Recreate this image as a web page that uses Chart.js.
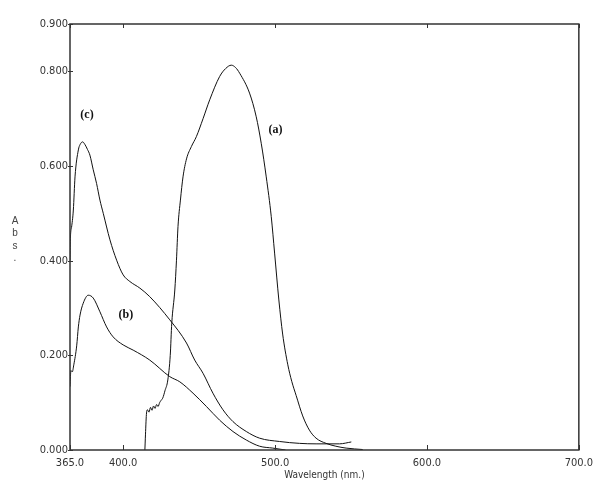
<!DOCTYPE html>
<html><head><meta charset="utf-8">
<script src="https://cdn.jsdelivr.net/npm/chart.js@4/dist/chart.umd.min.js"></script>
<style>html,body{margin:0;padding:0;background:#fff}#wrap{width:600px;height:497px}</style>
</head><body><div id="wrap"><canvas id="c" width="600" height="497"></canvas></div>
<script>
// ---- data (wavelength in nm, absorbance) ----
const wavelengthA = [414.3,414.6,415.3,416.0,417.0,418.0,419.0,420.0,421.0,422.0,423.0,424.0,425.0,426.1,427.5,429.4,431.0,432.0,434.0,435.1,436.1,437.7,439.4,441.7,444.9,448.2,452.6,457.0,463.5,467.5,471.2,474.0,476.7,483.2,487.6,490.9,494.2,497.5,499.7,502.5,505.0,508.4,511.0,513.9,518.2,522.6,527.0,533.6,540.0,546.8,557.7];
const absA        = [0.000,0.025,0.075,0.085,0.080,0.090,0.084,0.093,0.088,0.096,0.092,0.100,0.105,0.110,0.125,0.148,0.200,0.268,0.338,0.401,0.472,0.528,0.577,0.615,0.641,0.662,0.700,0.740,0.789,0.806,0.813,0.808,0.796,0.754,0.704,0.648,0.577,0.493,0.416,0.317,0.245,0.180,0.145,0.115,0.072,0.042,0.025,0.014,0.008,0.004,0.001];

const wavelengthB = [365.0,365.6,366.5,367.5,369.4,370.5,371.6,373.7,377.0,380.3,384.7,389.1,393.4,400.0,406.6,417.5,430.7,437.3,446.0,454.8,463.5,472.3,481.1,489.8,498.5,506.9];
const absB        = [0.134,0.168,0.165,0.180,0.220,0.260,0.285,0.310,0.327,0.321,0.292,0.260,0.239,0.222,0.211,0.190,0.155,0.144,0.120,0.092,0.063,0.039,0.021,0.008,0.004,0.000];

const wavelengthC = [365.0,365.3,366.0,367.2,368.3,370.5,371.6,373.3,374.9,376.5,378.1,380.3,382.5,384.7,386.9,391.3,395.7,400.0,404.4,411.0,417.5,430.7,441.7,447.1,452.6,459.1,465.7,472.3,481.1,489.8,502.9,516.1,527.0,542.4,550.2];
const absC        = [0.400,0.450,0.470,0.507,0.577,0.634,0.645,0.651,0.645,0.635,0.623,0.592,0.563,0.528,0.500,0.444,0.401,0.370,0.356,0.342,0.324,0.275,0.226,0.190,0.162,0.120,0.085,0.060,0.039,0.025,0.018,0.014,0.013,0.013,0.017];

const xTickValues = [365, 400, 500, 600, 700];
const yTickValues = [0, 0.2, 0.4, 0.6, 0.8, 0.9];
const curveNames = ['(a)', '(b)', '(c)'];
const curveLabelNm = [500.3, 401.8, 376.2];
const curveLabelAbs = [0.676, 0.285, 0.708];
const xTitle = 'Wavelength (nm.)';
const yTitle = 'Abs.';

function pts(xs, ys){ return xs.map((v,i)=>({x:v, y:ys[i]})); }

const tickFont = {family:'"Liberation Sans Narrow", "DejaVu Sans Condensed", "Liberation Sans", sans-serif', size:11};

const decor = {
  id:'decor',
  afterDraw(chart){
    const {ctx, chartArea:a, scales:{x, y}} = chart;
    ctx.save();
    ctx.strokeStyle = '#333';
    ctx.lineWidth = 1.5;
    ctx.strokeRect(a.left, a.top, a.right - a.left, a.bottom - a.top);
    ctx.lineWidth = 1;
    ctx.beginPath();
    x.ticks.forEach(t => {
      const px = Math.round(x.getPixelForValue(t.value)) + 0.5;
      ctx.moveTo(px, a.bottom); ctx.lineTo(px, a.bottom - 5);
      ctx.moveTo(px, a.top); ctx.lineTo(px, a.top + 4);
    });
    y.ticks.forEach(t => {
      const py = Math.round(y.getPixelForValue(t.value)) + 0.5;
      ctx.moveTo(a.left - 2, py); ctx.lineTo(a.left + 3, py);
    });
    ctx.stroke();
    ctx.fillStyle = '#111';
    ctx.font = 'bold 12px "Liberation Serif", serif';
    ctx.textAlign = 'center';
    ctx.textBaseline = 'middle';
    curveNames.forEach((n, i) => {
      ctx.fillText(n, x.getPixelForValue(curveLabelNm[i]), y.getPixelForValue(curveLabelAbs[i]));
    });
    ctx.fillStyle = '#444';
    ctx.font = '10px "Liberation Sans", sans-serif';
    yTitle.split('').forEach((ch, i) => ctx.fillText(ch, 15, 221 + i * 12.5));
    ctx.restore();
  }
};

const lineStyle = {borderColor:'#111', borderWidth:1, pointRadius:0, fill:false, cubicInterpolationMode:'monotone'};

new Chart(document.getElementById('c'), {
  type:'line',
  data:{
    datasets:[
      Object.assign({label:curveNames[0], data:pts(wavelengthA, absA)}, lineStyle),
      Object.assign({label:curveNames[1], data:pts(wavelengthB, absB)}, lineStyle),
      Object.assign({label:curveNames[2], data:pts(wavelengthC, absC)}, lineStyle)
    ]
  },
  options:{
    responsive:false,
    animation:false,
    layout:{padding:{top:24, right:20, left:0, bottom:0}},
    plugins:{legend:{display:false}, tooltip:{enabled:false}},
    scales:{
      x:{
        type:'linear', min:365, max:700,
        afterBuildTicks(s){ s.ticks = xTickValues.map(v=>({value:v})); },
        afterFit(s){ s.height = 47; },
        grid:{display:false, drawTicks:false},
        border:{display:false},
        ticks:{padding:7, color:'#333', font:tickFont, maxRotation:0, autoSkip:false, callback:v=>Number(v).toFixed(1)},
        title:{display:true, text:xTitle, color:'#333', font:{family:tickFont.family, size:10}, padding:{top:0, bottom:16}}
      },
      y:{
        type:'linear', min:0, max:0.9,
        afterBuildTicks(s){ s.ticks = yTickValues.map(v=>({value:v})); },
        afterFit(s){ s.width = 70; },
        grid:{display:false, drawTicks:false},
        border:{display:false},
        ticks:{padding:2, color:'#333', font:tickFont, autoSkip:false, callback:v=>Number(v).toFixed(3)}
      }
    }
  },
  plugins:[decor]
});
</script>
</body></html>
